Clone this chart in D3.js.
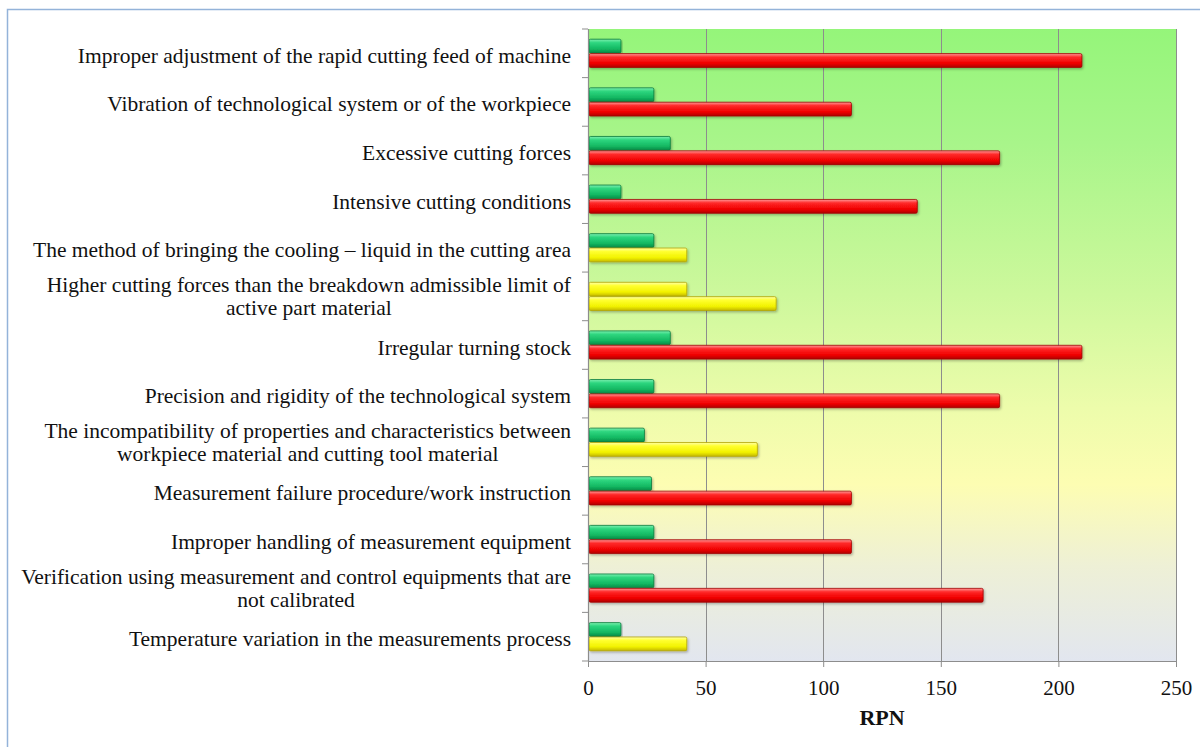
<!DOCTYPE html>
<html>
<head>
<meta charset="utf-8">
<script src="https://cdn.jsdelivr.net/npm/d3@7"></script>
<style>
  html, body { margin: 0; padding: 0; background: #ffffff; }
  svg { display: block; }
</style>
</head>
<body>
<svg id="chart" width="1200" height="747"></svg>
<script>
// Failure causes, listed top to bottom; "\n" marks a wrapped label line.
const categories = [
  "Improper adjustment of the rapid cutting feed of machine",
  "Vibration of technological system or of the workpiece",
  "Excessive cutting forces",
  "Intensive cutting conditions",
  "The method of bringing the cooling \u2013 liquid in the cutting area",
  "Higher cutting forces than the breakdown admissible limit of\nactive part material",
  "Irregular turning stock",
  "Precision and rigidity of the technological system",
  "The incompatibility of  properties and characteristics between\nworkpiece material and cutting tool material",
  "Measurement failure procedure/work instruction",
  "Improper handling of measurement equipment",
  "Verification using measurement and control equipments that are\nnot calibrated",
  "Temperature variation in the measurements process"
];

// RPN after corrective actions (upper bar of each pair)
const rpnRevised = [14, 28, 35, 14, 28, 42, 35, 28, 24, 27, 28, 28, 14];
// RPN before corrective actions (lower bar of each pair)
const rpnInitial = [210, 112, 175, 140, 42, 80, 210, 175, 72, 112, 112, 168, 42];

const seriesKeys = ["revised", "initial"];
const xTicks = [0, 50, 100, 150, 200, 250];
const axisTitle = "RPN";

const rows = categories.map((c, i) => ({
  category: c,
  revised: rpnRevised[i],
  initial: rpnInitial[i]
}));

// Risk level colour by RPN value
function riskLevel(v) {
  if (v < 40) return "low";
  if (v < 100) return "mid";
  return "high";
}

const svg = d3.select("#chart");
const W = 1200, H = 747;
const plot = { left: 588, right: 1176, top: 29, bottom: 661 };
const serif = "'Liberation Serif', 'Times New Roman', serif";

const defs = svg.append("defs");

// Plot background: green at the top fading to yellow, then grey-blue
const bg = defs.append("linearGradient")
  .attr("id", "plotBg").attr("x1", 0).attr("y1", 0).attr("x2", 0).attr("y2", 1);
[
  [0, "#95f57a"], [0.18, "#a8f58a"], [0.42, "#cdf89c"],
  [0.6, "#edfcab"], [0.72, "#fdfdb2"], [0.85, "#eef0d6"], [1, "#e2e6ef"]
].forEach(([o, c]) => bg.append("stop").attr("offset", o).attr("stop-color", c));

// Bar shading: lighter top edge, saturated body, darker bottom edge
const barPalettes = {
  low:  { stops: ["#7df0b0", "#2ed67f", "#13b862", "#0a8a45"], stroke: "#0a7a3c" },
  mid:  { stops: ["#ffffa8", "#ffff30", "#f2f200", "#c4b800"], stroke: "#b3a400" },
  high: { stops: ["#ff9a9a", "#ff2a2a", "#f00000", "#b00000"], stroke: "#a00000" }
};
Object.entries(barPalettes).forEach(([k, p]) => {
  const g = defs.append("linearGradient")
    .attr("id", "bar-" + k).attr("x1", 0).attr("y1", 0).attr("x2", 0).attr("y2", 1);
  g.append("stop").attr("offset", 0).attr("stop-color", p.stops[0]);
  g.append("stop").attr("offset", 0.25).attr("stop-color", p.stops[1]);
  g.append("stop").attr("offset", 0.7).attr("stop-color", p.stops[2]);
  g.append("stop").attr("offset", 1).attr("stop-color", p.stops[3]);
});

const shadow = defs.append("filter").attr("id", "barShadow")
  .attr("x", "-5%").attr("y", "-30%").attr("width", "110%").attr("height", "170%");
shadow.append("feDropShadow")
  .attr("dx", 1.2).attr("dy", 1.5).attr("stdDeviation", 1.2)
  .attr("flood-color", "#000").attr("flood-opacity", 0.28);

// Chart frame
svg.append("rect")
  .attr("x", 7.5).attr("y", 9.5).attr("width", W + 20).attr("height", H + 20)
  .attr("fill", "#ffffff").attr("stroke", "#94b3d9").attr("stroke-width", 1.5);

// Scales
const x = d3.scaleLinear().domain([0, 250]).range([plot.left, plot.right]);
const y = d3.scaleBand().domain(categories)
  .range([plot.top, plot.bottom]).paddingInner(0.42).paddingOuter(0.21);
const ySub = d3.scaleBand().domain(seriesKeys).range([0, y.bandwidth()]).paddingInner(0.04);

// Plot area
svg.append("rect")
  .attr("x", plot.left).attr("y", plot.top)
  .attr("width", plot.right - plot.left).attr("height", plot.bottom - plot.top)
  .attr("fill", "url(#plotBg)");

// Vertical gridlines
svg.append("g").selectAll("line")
  .data(xTicks.filter(t => t > 0))
  .join("line")
  .attr("x1", d => Math.round(x(d)) + 0.5).attr("x2", d => Math.round(x(d)) + 0.5)
  .attr("y1", plot.top).attr("y2", plot.bottom)
  .attr("stroke", "#8d8d8d").attr("stroke-width", 1);

// Bars
const step = y.step();
const groups = svg.append("g").selectAll("g")
  .data(rows).join("g")
  .attr("transform", d => `translate(0,${y(d.category)})`);

groups.selectAll("rect")
  .data(d => seriesKeys.map(k => ({ key: k, value: d[k] })))
  .join("rect")
  .attr("x", x(0) + 1)
  .attr("y", d => ySub(d.key))
  .attr("width", d => x(d.value) - x(0) - 1)
  .attr("height", ySub.bandwidth())
  .attr("rx", 1.5)
  .attr("fill", d => `url(#bar-${riskLevel(d.value)})`)
  .attr("stroke", d => barPalettes[riskLevel(d.value)].stroke)
  .attr("stroke-width", 0.8)
  .attr("filter", "url(#barShadow)");

// Bottom axis
const xAxis = svg.append("g")
  .attr("transform", `translate(0,${plot.bottom})`)
  .call(d3.axisBottom(x).tickValues(xTicks).tickSize(6).tickSizeOuter(0).tickPadding(13));
xAxis.select(".domain").attr("stroke", "#8d8d8d").attr("stroke-width", 1.2);
xAxis.selectAll(".tick line").attr("stroke", "#8d8d8d");
xAxis.selectAll(".tick text")
  .attr("font-family", serif)
  .attr("font-size", 21).attr("fill", "#111");

// Left axis line with ticks on category boundaries
svg.append("line")
  .attr("x1", plot.left + 0.5).attr("x2", plot.left + 0.5)
  .attr("y1", plot.top).attr("y2", plot.bottom)
  .attr("stroke", "#8d8d8d").attr("stroke-width", 1.2);
svg.append("g").selectAll("line")
  .data(d3.range(categories.length + 1))
  .join("line")
  .attr("x1", plot.left - 6).attr("x2", plot.left)
  .attr("y1", i => plot.top + i * step).attr("y2", i => plot.top + i * step)
  .attr("stroke", "#8d8d8d").attr("stroke-width", 1);

// Category labels: block right-aligned, wrapped lines centred on each other
const labelRight = 571;
const lineHeight = 23;
const labels = svg.append("g")
  .attr("font-family", serif)
  .attr("font-size", 21.5).attr("fill", "#111");

rows.forEach(d => {
  const lines = d.category.split("\n");
  const cy = y(d.category) + y.bandwidth() / 2 + (lines.length === 1 ? 2 : 0);
  const t = labels.append("text").attr("text-anchor", "middle");
  const spans = lines.map((ln, j) =>
    t.append("tspan")
      .attr("y", cy + (j - (lines.length - 1) / 2) * lineHeight)
      .attr("dy", "0.35em")
      .text(ln));
  const maxW = d3.max(spans, s => s.node().getComputedTextLength());
  spans.forEach(s => s.attr("x", labelRight - maxW / 2));
});

// Axis title
svg.append("text")
  .attr("x", (plot.left + plot.right) / 2).attr("y", 717).attr("dy", "0.35em")
  .attr("text-anchor", "middle")
  .attr("font-family", serif)
  .attr("font-size", 22).attr("font-weight", "bold").attr("fill", "#111")
  .text(axisTitle);
</script>
</body>
</html>
